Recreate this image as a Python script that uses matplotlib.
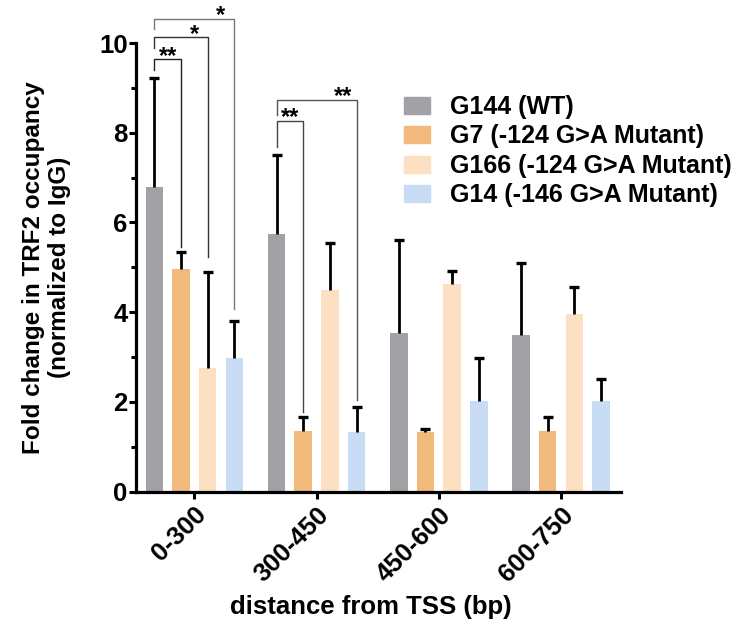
import numpy as np
import matplotlib.pyplot as plt
from matplotlib.patches import Patch

plt.rcParams['font.family'] = ['Liberation Sans', 'DejaVu Sans']
plt.rcParams['font.weight'] = 'bold'

# data
categories = ['0-300', '300-450', '450-600', '600-750']
series = ['G144 (WT)', 'G7 (-124 G>A Mutant)',
          'G166 (-124 G>A Mutant)', 'G14 (-146 G>A Mutant)']
g144 = [6.79, 5.75, 3.53, 3.50]
g144_err = [2.42, 1.75, 2.07, 1.59]
g7 = [4.97, 1.34, 1.32, 1.36]
g7_err = [0.36, 0.32, 0.07, 0.31]
g166 = [2.75, 4.49, 4.63, 3.96]
g166_err = [2.15, 1.05, 0.28, 0.61]
g14 = [2.98, 1.33, 2.01, 2.01]
g14_err = [0.82, 0.55, 0.97, 0.50]
colors = ['#A2A1A6', '#F2B97D', '#FDE0C1', '#C8DDF5']

# significance brackets: group, left bar, right bar, left leg start,
# top, right leg end, label
brackets = [
    (0, 0, 1, 9.40, 9.64, 5.46, '**'),
    (0, 0, 2, 9.88, 10.13, 5.22, '*'),
    (0, 0, 3, 10.31, 10.54, 4.06, '*'),
    (1, 0, 1, 7.69, 8.27, 1.78, '**'),
    (1, 0, 3, 8.39, 8.73, 2.04, '**'),
]
bracket_colors = ['#222222', '#333333', '#777777', '#444444', '#555555']

values = [g144, g7, g166, g14]
errors = [g144_err, g7_err, g166_err, g14_err]

fig = plt.figure(figsize=(7.41, 6.33), dpi=100)
ax = fig.add_axes([0.1835, 0.2235, 0.6545, 0.7085])

x = np.arange(len(categories))
step = 0.218
width = 0.143
for i, (vals, errs) in enumerate(zip(values, errors)):
    xs = x + (i - 1.5) * step
    ax.bar(xs, vals, width, color=colors[i], label=series[i], zorder=2)
    tops = np.array(vals) + np.array(errs)
    ax.vlines(xs, vals, tops, color='black', lw=2.0, zorder=3)
    ax.plot(xs, tops, ls='none', marker='_', ms=7, mew=2.4,
            color='black', zorder=3)

for (g, a, b, y0, ytop, y1, lab), c in zip(brackets, bracket_colors):
    xa = g + (a - 1.5) * step
    xb = g + (b - 1.5) * step
    ax.plot([xa, xa, xb, xb], [y0, ytop, ytop, y1], color=c, lw=1.0,
            clip_on=False, zorder=4)
    ax.annotate(lab, (xb - step / 2, ytop), xytext=(0, -6),
                textcoords='offset points', ha='center', va='bottom',
                fontsize=17, fontweight='bold', annotation_clip=False)

ax.set_xlim(-0.477, 3.49)
ax.set_ylim(0, 10)
ax.set_yticks([0, 2, 4, 6, 8, 10])
ax.set_yticks(np.arange(1, 10, 2), minor=True)
ax.set_xticks(x)
ax.set_xticklabels(categories, rotation=45, ha='right',
                   rotation_mode='anchor', fontsize=18.5, fontweight='bold')
ax.tick_params(axis='y', labelsize=18.5, width=2.2, length=5, pad=1)
ax.tick_params(axis='y', which='minor', width=2.2, length=3.5)
ax.tick_params(axis='x', width=2.2, length=5, pad=3)
for lab in ax.get_yticklabels():
    lab.set_fontweight('bold')

for s in ['top', 'right']:
    ax.spines[s].set_visible(False)
for s in ['left', 'bottom']:
    ax.spines[s].set_linewidth(2.3)

ax.set_ylabel('Fold change in TRF2 occupancy\n(normalized to IgG)',
              fontsize=17.5, fontweight='bold', labelpad=20)
ax.set_xlabel('distance from TSS (bp)', fontsize=18.5, fontweight='bold')
ax.xaxis.set_label_coords(0.485, -0.258)
ax.xaxis.label.set_va('center')

handles = [Patch(color=c, label=s) for c, s in zip(colors, series)]
fig.legend(handles=handles, loc='upper left',
           bbox_to_anchor=(0.545, 0.85), frameon=False,
           prop={'weight': 'bold', 'size': 18}, handlelength=1.04,
           handleheight=0.68, handletextpad=0.8, labelspacing=0.22,
           borderpad=0, borderaxespad=0)

fig.savefig('out.png', dpi=100)
